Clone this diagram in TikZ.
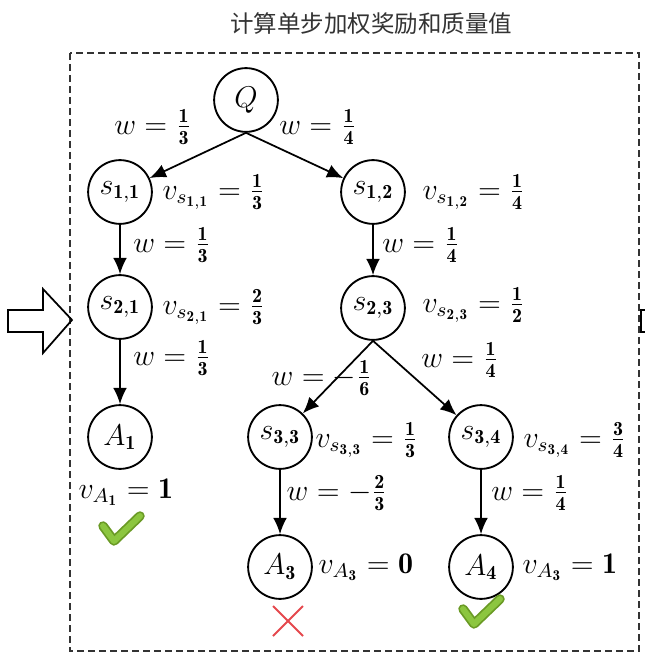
\documentclass[tikz,border=0pt]{standalone}
\usepackage{fontspec}
\usepackage{amsmath}
\newfontfamily\cjk{Noto Sans CJK SC}
\usetikzlibrary{arrows.meta,positioning}
\newcommand{\bfr}[2]{\frac{\mathbf{#1}}{\mathbf{#2}}}
\definecolor{okgreen}{HTML}{8CC63F}
\definecolor{okedge}{HTML}{6A9A25}
\definecolor{badred}{HTML}{E5484D}
\tikzset{
  state/.style={
    shape = circle,
    draw,
    line width = 0.75pt,
    minimum size = 25.5pt,
    inner sep = 0pt
  },
  edge/.style={
    line width = 0.7pt,
    -{Latex[length=6.5pt,width=5.5pt]}
  },
  vlab/.style={
    anchor = west,
    inner sep = 0pt
  },
  wlab/.style={
    inner sep = 0pt
  },
  frame/.style={
    draw = black!80,
    line width = 0.8pt,
    dash pattern = on 2.8pt off 1.6pt
  },
}
\tikzset{
  okmark/.pic={
    \draw[okedge, line width=3.8pt, line cap=round, line join=round]
      (-18,-4) -- (-7,11) -- (19,-14);
    \draw[okgreen, line width=2.4pt, line cap=round, line join=round]
      (-18,-4) -- (-7,11) -- (19,-14);
  },
  badmark/.pic={
    \draw[badred, line width=0.8pt] (-15,-15) -- (15,15) (-15,15) -- (15,-15);
  },
}

\begin{document}
\begin{tikzpicture}[x=0.4pt, y=-0.4pt, font=\large]
\useasboundingbox (0,0) rectangle (645,672);
% title and frame
\node[text=black!80, font=\cjk\fontsize{9.4}{11}\selectfont] (title) at (371,24) {计算单步加权奖励和质量值};
\draw[frame] (70,53) rectangle (639,651);
% arrow in, and the one leaving to the right
\draw[line width=0.7pt] (8,310) -- (43,310) -- (43,289) -- (72,320) -- (43,353) -- (43,332) -- (8,332) -- cycle;
\draw[line width=0.7pt] (660,310) -- (641,310) -- (641,332) -- (660,332);
% states
\foreach \n/\x/\y/\t in {Q/246/100/{Q}, s11/120/192/{s_{\mathbf{1,1}}}, s12/373/192/{s_{\mathbf{1,2}}},
    s21/120/307/{s_{\mathbf{2,1}}}, s23/373/308/{s_{\mathbf{2,3}}}, A1/120/437/{A_{\mathbf{1}}},
    s33/280/437/{s_{\mathbf{3,3}}}, s34/481/437/{s_{\mathbf{3,4}}}, A3/280/567/{A_{\mathbf{3}}},
    A4/481/567/{A_{\mathbf{4}}}}
  \node[state] (\n) at (\x,\y) {$\t$};
\draw[edge] (Q.south) -- (s11);
\draw[edge] (Q.south) -- (s12);
\draw[edge] (s11) -- (s21);
\draw[edge] (s21) -- (A1);
\draw[edge] (s12) -- (s23);
\draw[edge] (s23.south) -- (s33);
\draw[edge] (s23.south) -- (s34);
\draw[edge] (s33) -- (A3);
\draw[edge] (s34) -- (A4);
% weights
\foreach \n/\x/\y/\t in {wQa/153/127/{\bfr13}, wQb/318/127/{\bfr14}, w11/172/245/{\bfr13},
    w21/172/358/{\bfr13}, w12/421/245/{\bfr14}, w23a/322/378/{-\bfr16}, w23b/460/360/{\bfr14},
    w33/337/493/{-\bfr23}, w34/530/493/{\bfr14}}
  \node[wlab] (\n) at (\x,\y) {$w = \t$};
% values
\foreach \n/\x/\y/\t in {v11/162/192/{v_{s_{\mathbf{1,1}}} = \bfr13}, v12/422/192/{v_{s_{\mathbf{1,2}}} = \bfr14},
    v21/162/307/{v_{s_{\mathbf{2,1}}} = \bfr23}, v23/422/305/{v_{s_{\mathbf{2,3}}} = \bfr12},
    v33/315/440/{v_{s_{\mathbf{3,3}}} = \bfr13}, v34/523/440/{v_{s_{\mathbf{3,4}}} = \bfr34},
    vA1/78/492/{v_{A_{\mathbf{1}}} = \mathbf{1}}, vA3/318/567/{v_{A_{\mathbf{3}}} = \mathbf{0}},
    vA4/522/567/{v_{A_{\mathbf{3}}} = \mathbf{1}}}
  \node[vlab] (\n) at (\x,\y) {$\t$};
% outcome marks
\pic at (121,530) {okmark};
\pic at (481,613) {okmark};
\pic at (288,621) {badmark};
\end{tikzpicture}
\end{document}
